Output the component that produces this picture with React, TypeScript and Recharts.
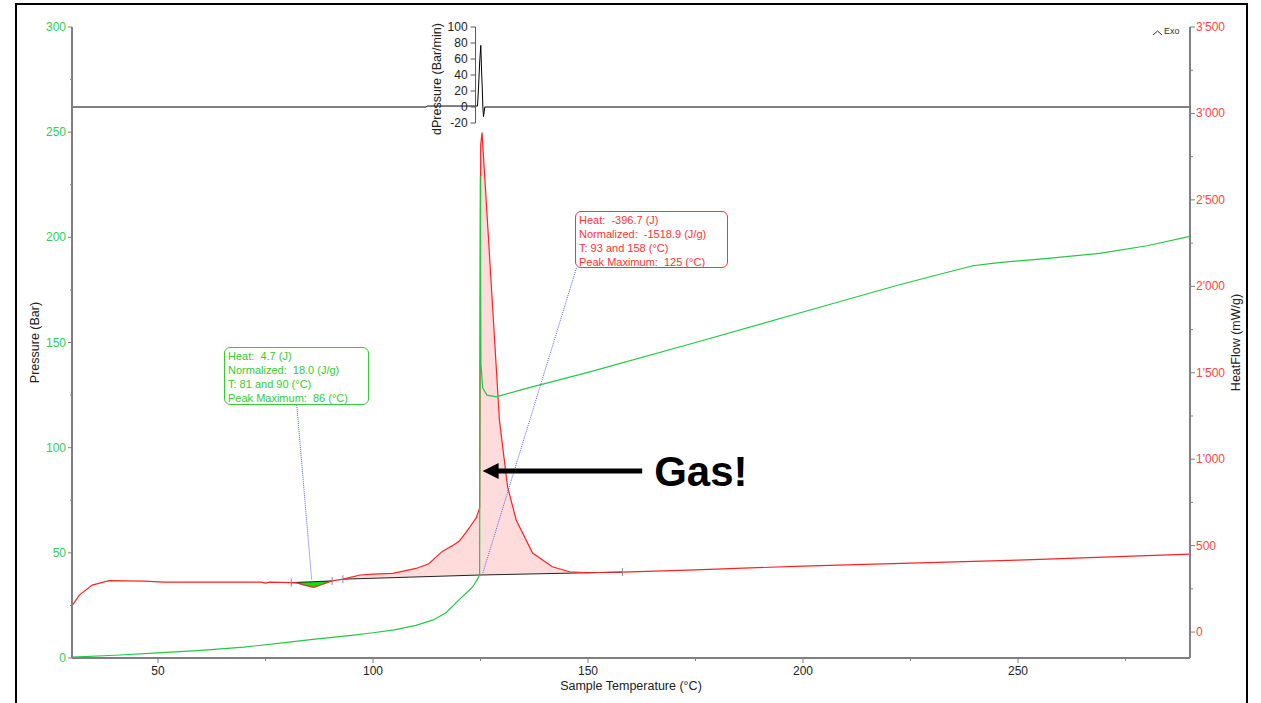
import React from 'react';
import { ComposedChart, Line, Area, Scatter, XAxis, YAxis, ReferenceLine } from 'recharts';

// pressure (Bar) against sample temperature (°C)
const pressureT = [30, 40, 50, 60, 70, 80, 86, 95, 100, 105, 110, 114, 117, 120, 122, 123.2, 124.3, 124.8, 124.95, 125.1, 125.5, 126.5, 128.7, 135, 150, 175, 200, 222, 230, 239.5, 245, 257, 269, 280, 290];
const pressureBar = [0.4, 1.3, 2.4, 3.6, 5.2, 7.4, 8.9, 10.8, 12.0, 13.4, 15.5, 18.1, 21.5, 27.6, 31.5, 33.9, 37.5, 39.5, 229, 140, 128.5, 125, 124.2, 127.8, 135.8, 150, 164.5, 177.2, 181.5, 186.5, 187.9, 190, 192.4, 196, 200.5];

// heat flow (mW/g)
const heatT = [30, 31.7, 34.7, 38.6, 46.8, 51.4, 60, 74, 75, 76, 81, 82.5, 84, 86.2, 88, 90, 90.5, 93, 97, 100, 104.6, 110, 113, 114.7, 116.2, 117.5, 118.5, 120, 121.6, 123, 124, 124.8, 125.05, 125.35, 126.6, 128, 129.4, 131.3, 133.3, 137.1, 141.7, 145.7, 150, 155, 158, 175, 200, 225, 250, 270, 290];
const heatFlow = [152, 214, 272, 297, 295, 289, 289, 289, 283, 289, 286, 283, 272, 259, 274, 292, 296, 306, 330, 335, 340, 368, 395, 435, 468, 486, 500, 525, 575, 625, 660, 717, 2820, 2890, 2383, 1805, 1226, 840, 648, 457, 378, 349, 343, 346, 347, 360, 382, 399, 416, 433, 451];

// integration baselines
const peakBaseT = [93, 124.8, 151.9, 158];
const peakBaseVal = [306, 330, 344, 347];
const dipBaseT = [81, 90.5];
const dipBaseVal = [286, 296];
const limitT = [81, 90.5, 93, 158];
const limitVal = [286, 296, 306, 347];

// dPressure (Bar/min)
const dpT = [30, 112.4, 112.6, 124.3, 124.55, 124.8, 125.07, 125.25, 125.4, 125.55, 125.7, 126, 290];
const dpVal = [0, 0, 1.2, 1.2, 25, 55, 77, 45, 25, 0, -12, 0, 0];

const xTicks = [50, 75, 100, 125, 150, 175, 200, 225, 250, 275];
const pressureTicks = [0, 25, 50, 75, 100, 125, 150, 175, 200, 225, 250, 275, 300];
const heatTicks = [0, 250, 500, 750, 1000, 1250, 1500, 1750, 2000, 2250, 2500, 2750, 3000, 3250, 3500];
const dpTicks = [-20, 0, 20, 40, 60, 80, 100];

const dipNote = ['Heat:  4.7 (J)', 'Normalized:  18.0 (J/g)', 'T: 81 and 90 (°C)', 'Peak Maximum:  86 (°C)'];
const peakNote = ['Heat:  -396.7 (J)', 'Normalized:  -1518.9 (J/g)', 'T: 93 and 158 (°C)', 'Peak Maximum:  125 (°C)'];

const zip = (t: number[], v: number[]) => t.map((x, i) => ({ t: x, v: v[i] }));

const pressureData = zip(pressureT, pressureBar);
const heatData = zip(heatT, heatFlow);
const peakFill = heatData.filter((d) => d.t >= 93 && d.t <= 158);
const dipCurve = heatData.filter((d) => d.t >= 81 && d.t <= 90.5);
const peakBase = zip(peakBaseT, peakBaseVal);
const dipBase = zip(dipBaseT, dipBaseVal);
const limits = zip(limitT, limitVal);
const dpData = zip(dpT, dpVal);

const AXIS = '#808080';
const GREEN = '#22c844';
const RED = '#ff2222';
const FONT = '"Liberation Sans", Arial, sans-serif';

const fmtHeat = (v: number) =>
  v >= 1000 ? `${Math.floor(v / 1000)}'${String(v % 1000).padStart(3, '0')}` : String(v);

const LeftTick = (p: any) => {
  const major = p.payload.value % 50 === 0;
  const ax = p.x + 2 + 4;
  return (
    <g>
      <line x1={ax - (major ? 4 : 2)} x2={ax} y1={p.y} y2={p.y} stroke={AXIS} />
      {major && (
        <text x={p.x} y={p.y} dy={4} textAnchor="end" fontSize={12} fill="#33cc55">
          {p.payload.value}
        </text>
      )}
    </g>
  );
};

const RightTick = (p: any) => {
  const major = p.payload.value % 500 === 0;
  const ax = p.x - 1 - 5;
  return (
    <g>
      <line x1={ax} x2={ax + (major ? 5 : 3)} y1={p.y} y2={p.y} stroke={AXIS} />
      {major && (
        <text x={p.x} y={p.y} dy={4} textAnchor="start" fontSize={12} fill="#ff4444">
          {fmtHeat(p.payload.value)}
        </text>
      )}
    </g>
  );
};

const BottomTick = (p: any) => {
  const major = p.payload.value % 50 === 0;
  const ay = p.y - 3 - 5;
  return (
    <g>
      <line x1={p.x} x2={p.x} y1={ay} y2={ay + (major ? 5 : 3)} stroke={AXIS} />
      {major && (
        <text x={p.x} y={p.y} dy={9} textAnchor="middle" fontSize={12} fill="#222">
          {p.payload.value}
        </text>
      )}
    </g>
  );
};

const ArrowShape = (p: any) => {
  const tip = Math.min(p.x1, p.x2);
  const tail = Math.max(p.x1, p.x2);
  const y = p.y1;
  return (
    <g>
      <line x1={tail} y1={y} x2={tip + 14} y2={y} stroke="#000" strokeWidth={5} />
      <polygon points={`${tip},${y} ${tip + 16},${y - 8} ${tip + 16},${y + 8}`} fill="#000" />
    </g>
  );
};

const VTick = (p: any) => (
  <line x1={p.cx} x2={p.cx} y1={p.cy - 4} y2={p.cy + 4} stroke="#888" strokeWidth={1} />
);

const Note = ({ lines, color, left, top, width, height }: any) => (
  <div
    style={{
      position: 'absolute',
      left,
      top,
      width,
      height,
      boxSizing: 'border-box',
      border: `1px solid ${color}`,
      borderRadius: 6,
      padding: '1px 3px',
      fontSize: 11,
      lineHeight: '14px',
      color,
      whiteSpace: 'pre',
      background: '#fff',
    }}
  >
    {lines.map((l: string) => (
      <div key={l}>{l}</div>
    ))}
  </div>
);

const fillProps = { type: 'linear' as const, stroke: 'none', fillOpacity: 1, baseValue: 0, shapeRendering: 'crispEdges', isAnimationActive: false };

export default function App() {
  return (
    <div
      style={{
        position: 'absolute',
        left: 0,
        top: 0,
        width: 1261,
        height: 703,
        overflow: 'hidden',
        background: '#fff',
        fontFamily: FONT,
      }}
    >
      <div
        style={{
          position: 'absolute',
          left: 15,
          top: 3,
          width: 1233,
          height: 760,
          border: '2px solid #000',
          boxSizing: 'border-box',
        }}
      />
      <ComposedChart width={1261} height={703} margin={{ top: 27, right: 16, bottom: 5, left: 16 }}>
        <XAxis
          type="number"
          dataKey="t"
          domain={[30, 290]}
          ticks={xTicks}
          interval={0}
          allowDataOverflow
          tickSize={5}
          tickMargin={3}
          tickLine={false}
          tick={<BottomTick />}
          axisLine={{ stroke: AXIS, strokeWidth: 2 }}
          height={40}
          label={(p: any) => (
            <text
              x={p.viewBox.x + p.viewBox.width / 2}
              y={p.viewBox.y + 32}
              textAnchor="middle"
              fontSize={12.5}
              fill="#222"
            >
              Sample Temperature (°C)
            </text>
          )}
        />
        <YAxis
          yAxisId="p"
          domain={[0, 300]}
          ticks={pressureTicks}
          interval={0}
          allowDataOverflow
          width={56}
          tickSize={4}
          tickMargin={2}
          tickLine={false}
          tick={<LeftTick />}
          axisLine={{ stroke: AXIS, strokeWidth: 2 }}
          label={(p: any) => {
            const x = p.viewBox.x + 23;
            const y = p.viewBox.y + p.viewBox.height / 2;
            return (
              <text x={x} y={y} transform={`rotate(-90, ${x}, ${y})`} textAnchor="middle" fontSize={12.5} fill="#222">
                Pressure (Bar)
              </text>
            );
          }}
        />
        <YAxis
          yAxisId="hf"
          orientation="right"
          domain={[-150, 3500]}
          ticks={heatTicks}
          interval={0}
          allowDataOverflow
          width={55}
          tickSize={5}
          tickMargin={1}
          tickLine={false}
          tick={<RightTick />}
          axisLine={{ stroke: AXIS, strokeWidth: 2 }}
          label={(p: any) => {
            const x = p.viewBox.x + 50;
            const y = p.viewBox.y + p.viewBox.height / 2;
            return (
              <text x={x} y={y} transform={`rotate(-90, ${x}, ${y})`} textAnchor="middle" fontSize={12.5} fill="#222">
                HeatFlow (mW/g)
              </text>
            );
          }}
        />
        <YAxis yAxisId="dp" hide width={0} domain={[-688.75, 100]} allowDataOverflow />

        {/* integrated areas: fill under upper edge, then blank out under lower edge */}
        <Area yAxisId="hf" data={peakFill} dataKey="v" fill="#ffdcdc" {...fillProps} />
        <Area yAxisId="hf" data={peakBase} dataKey="v" fill="#fff" {...fillProps} />
        <Area yAxisId="hf" data={dipBase} dataKey="v" fill="#11dd11" {...fillProps} />
        <Area yAxisId="hf" data={dipCurve} dataKey="v" fill="#fff" {...fillProps} />

        <Line yAxisId="hf" data={peakBase} dataKey="v" type="linear" stroke="#222" strokeWidth={1} dot={false} isAnimationActive={false} />
        <Line yAxisId="hf" data={dipBase} dataKey="v" type="linear" stroke="#222" strokeWidth={1} dot={false} isAnimationActive={false} />
        <Line yAxisId="hf" data={heatData} dataKey="v" type="linear" stroke={RED} strokeWidth={1.2} dot={false} isAnimationActive={false} />
        <Line yAxisId="p" data={pressureData} dataKey="v" type="linear" stroke={GREEN} strokeWidth={1.2} dot={false} isAnimationActive={false} />
        <Line yAxisId="dp" data={dpData} dataKey="v" type="linear" stroke="#000" strokeWidth={1} dot={false} isAnimationActive={false} />
        <Scatter yAxisId="hf" data={limits} dataKey="v" shape={<VTick />} isAnimationActive={false} />

        {/* leader lines from result boxes */}
        <ReferenceLine yAxisId="hf" segment={[{ x: 82.27, y: 1313 }, { x: 85.75, y: 301 }]} stroke="#5a5aff" strokeDasharray="1 1" />
        <ReferenceLine yAxisId="hf" segment={[{ x: 147.3, y: 2105 }, { x: 125.54, y: 341 }]} stroke="#5a5aff" strokeDasharray="1 1" />

        {/* dPressure inset axis */}
        <ReferenceLine yAxisId="dp" segment={[{ x: 123.85, y: -20 }, { x: 123.85, y: 100 }]} stroke="#555" />
        {dpTicks.map((v) => (
          <ReferenceLine
            key={v}
            yAxisId="dp"
            segment={[{ x: 122.7, y: v }, { x: 123.85, y: v }]}
            stroke="#555"
            label={{ value: String(v), position: 'left', offset: 3, fontSize: 12, fill: '#222' }}
          />
        ))}
        <ReferenceLine
          yAxisId="dp"
          segment={[{ x: 114.8, y: -30 }, { x: 114.8, y: 100 }]}
          stroke="none"
          label={{ value: 'dPressure (Bar/min)', position: 'center', angle: -90, fontSize: 12.5, fill: '#222' }}
        />

        {/* Gas! arrow */}
        <ReferenceLine
          yAxisId="hf"
          segment={[{ x: 162.6, y: 931 }, { x: 125.5, y: 931 }]}
          shape={<ArrowShape />}
          label={{ value: 'Gas!', position: 'right', offset: 12, fontSize: 42, fontWeight: 700, fill: '#000' }}
        />
      </ComposedChart>

      <Note lines={dipNote} color="#33cc33" left={224} top={347} width={145} height={58} />
      <Note lines={peakNote} color="#ff3333" left={575} top={211} width={153} height={57} />

      <svg style={{ position: 'absolute', left: 1150, top: 26, width: 14, height: 12 }}>
        <polyline points="3,9 7.5,5 12,9" fill="none" stroke="#333" strokeWidth={1} />
      </svg>
      <div style={{ position: 'absolute', left: 1164, top: 26, fontSize: 9, color: '#333' }}>Exo</div>
    </div>
  );
}
